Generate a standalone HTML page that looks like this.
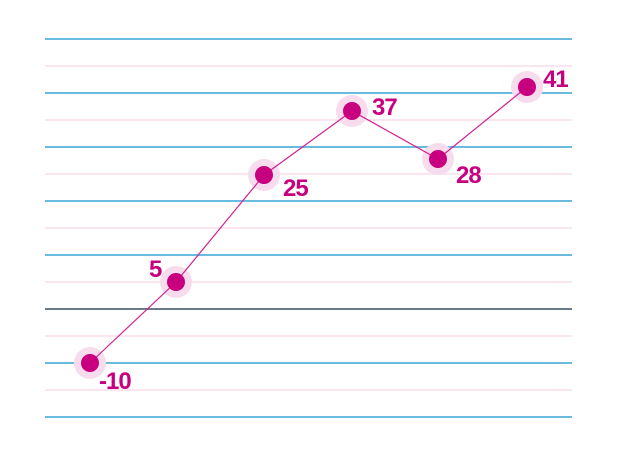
<!DOCTYPE html>
<html><head><style>
html,body{margin:0;padding:0;background:#fff;}
svg{display:block;}
text{font-family:"Liberation Sans",sans-serif;font-weight:bold;font-size:24px;fill:#c8007f;letter-spacing:-1px;}
</style></head><body>
<svg width="618" height="456" viewBox="0 0 618 456" xmlns="http://www.w3.org/2000/svg">
<g stroke="#fbe6f0" stroke-width="2">
<line x1="45" y1="66" x2="572" y2="66"/><line x1="45" y1="120" x2="572" y2="120"/>
<line x1="45" y1="174" x2="572" y2="174"/><line x1="45" y1="228" x2="572" y2="228"/>
<line x1="45" y1="282" x2="572" y2="282"/><line x1="45" y1="336" x2="572" y2="336"/>
<line x1="45" y1="390" x2="572" y2="390"/>
</g>
<g stroke="#6bbbe0" stroke-width="2">
<line x1="45" y1="39" x2="572" y2="39"/><line x1="45" y1="93" x2="572" y2="93"/>
<line x1="45" y1="147" x2="572" y2="147"/><line x1="45" y1="201" x2="572" y2="201"/>
<line x1="45" y1="255" x2="572" y2="255"/><line x1="45" y1="363" x2="572" y2="363"/>
<line x1="45" y1="417" x2="572" y2="417"/>
</g>
<line x1="45" y1="309" x2="572" y2="309" stroke="#6b7a8a" stroke-width="2"/>
<g fill="#f6dcec">
<circle cx="90" cy="363" r="16"/><circle cx="176" cy="282" r="16"/><circle cx="264" cy="175" r="16"/>
<circle cx="352" cy="111" r="16"/><circle cx="438" cy="159" r="16"/><circle cx="527" cy="87" r="16"/>
</g>
<polyline points="90,363 176,282 264,175 352,111 438,159 527,87" fill="none" stroke="#d4208f" stroke-width="1.2"/>
<g fill="#c8007f">
<circle cx="90" cy="363" r="9"/><circle cx="176" cy="282" r="9"/><circle cx="264" cy="175" r="9"/>
<circle cx="352" cy="111" r="9"/><circle cx="438" cy="159" r="9"/><circle cx="527" cy="87" r="9"/>
</g>
<text x="99" y="389">-10</text>
<text x="149" y="277">5</text>
<text x="283" y="196">25</text>
<text x="372" y="115">37</text>
<text x="456" y="183">28</text>
<text x="543" y="87">41</text>
</svg>
</body></html>
